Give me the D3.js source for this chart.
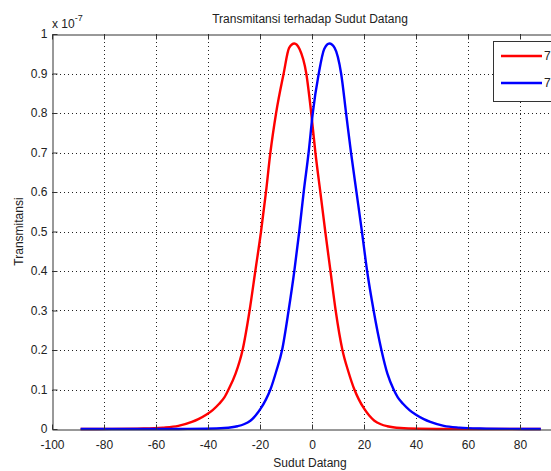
<!DOCTYPE html>
<html>
<head>
<meta charset="utf-8">
<script src="https://cdn.jsdelivr.net/npm/d3@7"></script>
<style>
  body { margin: 0; background: #fff; }
  svg { display: block; font-family: "Liberation Sans", Arial, sans-serif; }
</style>
</head>
<body>
<svg id="chart"></svg>
<script>
// values, transmittance in units of 1e-7
const redAngle = [-89, -76.8, -64.8, -57.4, -51.4, -46.2, -43.7, -40.7, -38.2, -35.7, -33.7, -32.1, -29.4, -26.7, -24, -21.8, -19.6, -17.7, -16, -13.8, -10.9, -8.8, -6.8, -4.8, -2.2, -0.3, 1.3, 3.2, 5.1, 7.1, 9.1, 11.7, 14, 16.3, 18, 20, 22, 24, 26.5, 29, 34, 41.2, 51.2, 63.2, 88];
const redT = [0, 0.0002, 0.0012, 0.0035, 0.008, 0.018, 0.025, 0.036, 0.048, 0.064, 0.08, 0.1, 0.14, 0.2, 0.3, 0.4, 0.5, 0.6, 0.7, 0.8, 0.9, 0.965, 0.976, 0.962, 0.9, 0.8, 0.7, 0.6, 0.5, 0.4, 0.3, 0.2, 0.145, 0.1, 0.075, 0.052, 0.034, 0.021, 0.012, 0.007, 0.0025, 0.0007, 0.0001, 0, 0];

const blueAngle = [-89, -63.3, -51.3, -41, -33.7, -28.7, -26.2, -23.7, -21.7, -19.7, -17.7, -16, -13.8, -11.5, -9, -6.8, -4.9, -3.2, -1.3, 0.3, 2.6, 4.7, 6.7, 8.7, 11.2, 13.1, 15, 17.1, 19.2, 21.2, 23.7, 26.7, 29, 31.4, 33, 35, 37.5, 40, 43, 45.5, 50.7, 56.7, 64.7, 76.7, 88];
const blueT = [0, 0, 0.0001, 0.0007, 0.0025, 0.007, 0.012, 0.021, 0.034, 0.052, 0.075, 0.1, 0.145, 0.2, 0.3, 0.4, 0.5, 0.6, 0.7, 0.8, 0.9, 0.962, 0.976, 0.965, 0.9, 0.8, 0.7, 0.6, 0.5, 0.4, 0.3, 0.2, 0.14, 0.1, 0.08, 0.064, 0.048, 0.036, 0.025, 0.018, 0.008, 0.0035, 0.0012, 0.0002, 0];

const xTicks = [-100, -80, -60, -40, -20, 0, 20, 40, 60, 80, 100];
const yTicks = [0, 0.1, 0.2, 0.3, 0.4, 0.5, 0.6, 0.7, 0.8, 0.9, 1];
const legendLabels = ["7", "7"];
const colors = ["#ff0000", "#0000ff"];

const width = 551;
const height = 471;
const padLeft = 52, padTop = 34, padBottom = 429, padRight = 572;

const svg = d3.select("#chart")
    .attr("width", width)
    .attr("height", height);

svg.append("rect")
    .attr("width", width)
    .attr("height", height)
    .attr("fill", "#fff");

let xScale = d3.scaleLinear()
    .domain([-100, 100])
    .range([padLeft, padRight]);

let yScale = d3.scaleLinear()
    .domain([0, 1])
    .range([padBottom, padTop]);

// dotted grid
svg.append("g")
  .selectAll("line")
  .data(xTicks.filter(d => d > -100 && d < 100))
  .enter()
  .append("line")
    .attr("x1", d => Math.round(xScale(d)) + 0.5)
    .attr("x2", d => Math.round(xScale(d)) + 0.5)
    .attr("y1", padTop)
    .attr("y2", padBottom)
    .attr("stroke", "#222")
    .attr("stroke-dasharray", "1,3");

svg.append("g")
  .selectAll("line")
  .data(yTicks.filter(d => d > 0 && d < 1))
  .enter()
  .append("line")
    .attr("x1", padLeft)
    .attr("x2", padRight)
    .attr("y1", d => Math.round(yScale(d)) + 0.5)
    .attr("y2", d => Math.round(yScale(d)) + 0.5)
    .attr("stroke", "#222")
    .attr("stroke-dasharray", "1,3");

// curves, blue drawn last so it covers red where both sit at zero
const series = [
  redAngle.map((a, i) => [a, redT[i]]),
  blueAngle.map((a, i) => [a, blueT[i]])
];

let line = d3.line()
    .x(d => xScale(d[0]))
    .y(d => yScale(d[1]))
    .curve(d3.curveMonotoneX);

svg.append("g")
  .selectAll("path")
  .data(series)
  .enter()
  .append("path")
    .attr("d", line)
    .attr("fill", "none")
    .attr("stroke", (d, i) => colors[i])
    .attr("stroke-width", 2.4)
    .attr("stroke-linejoin", "round");

// axes, ticks pointing inward like matlab
const hyphen = d => String(d);

let xAxis = d3.axisBottom(xScale)
    .tickValues(xTicks)
    .tickFormat(d => d < 100 ? hyphen(d) : "")
    .tickSize(-5)
    .tickSizeOuter(0)
    .tickPadding(11);

let xAxisTop = d3.axisTop(xScale)
    .tickValues(xTicks)
    .tickFormat("")
    .tickSize(-5)
    .tickSizeOuter(0);

let yAxis = d3.axisLeft(yScale)
    .tickValues(yTicks)
    .tickFormat(hyphen)
    .tickSize(-5)
    .tickSizeOuter(0)
    .tickPadding(5);

const gx = svg.append("g")
    .attr("transform", `translate(0, ${padBottom + 0.5})`)
    .call(xAxis);

const gxt = svg.append("g")
    .attr("transform", `translate(0, ${padTop + 0.5})`)
    .call(xAxisTop);

const gy = svg.append("g")
    .attr("transform", `translate(${padLeft + 0.5}, 0)`)
    .call(yAxis);

[gx, gxt, gy].forEach(g => {
  g.select(".domain").attr("stroke", "#333");
  g.selectAll(".tick line").attr("stroke", "#333");
  g.selectAll("text")
      .attr("fill", "#222")
      .style("font-size", "12px")
      .style("font-family", "'Liberation Sans', Arial, sans-serif");
});

// legend, cut by the right edge as in the original
const lg = svg.append("g");
lg.append("rect")
    .attr("x", 493.5)
    .attr("y", 41.5)
    .attr("width", 120)
    .attr("height", 60)
    .attr("fill", "#fff")
    .attr("stroke", "#333");

lg.selectAll(".item")
  .data(legendLabels)
  .enter()
  .append("line")
    .attr("x1", 501)
    .attr("x2", 542)
    .attr("y1", (d, i) => 56 + i * 27)
    .attr("y2", (d, i) => 56 + i * 27)
    .attr("stroke", (d, i) => colors[i])
    .attr("stroke-width", 2.4);

lg.selectAll("text")
  .data(legendLabels)
  .enter()
  .append("text")
    .attr("x", 544)
    .attr("y", (d, i) => 60 + i * 27)
    .style("font-size", "12px")
    .attr("fill", "#222")
    .text(d => d);

// titles
svg.append("text")
    .attr("x", 310)
    .attr("y", 23)
    .style("text-anchor", "middle")
    .style("font-size", "12px")
    .attr("fill", "#222")
    .text("Transmitansi terhadap Sudut Datang");

svg.append("text")
    .attr("x", 310)
    .attr("y", 467)
    .style("text-anchor", "middle")
    .style("font-size", "12px")
    .attr("fill", "#222")
    .text("Sudut Datang");

svg.append("text")
    .attr("transform", "rotate(-90)")
    .attr("x", -(padTop + padBottom) / 2)
    .attr("y", 23)
    .style("text-anchor", "middle")
    .style("font-size", "12px")
    .attr("fill", "#222")
    .text("Transmitansi");

const mult = svg.append("text")
    .attr("x", 52)
    .attr("y", 28)
    .style("font-size", "12px")
    .attr("fill", "#222");
mult.append("tspan").text("x 10");
mult.append("tspan")
    .attr("dy", -7)
    .style("font-size", "9px")
    .text("-7");
</script>
</body>
</html>
